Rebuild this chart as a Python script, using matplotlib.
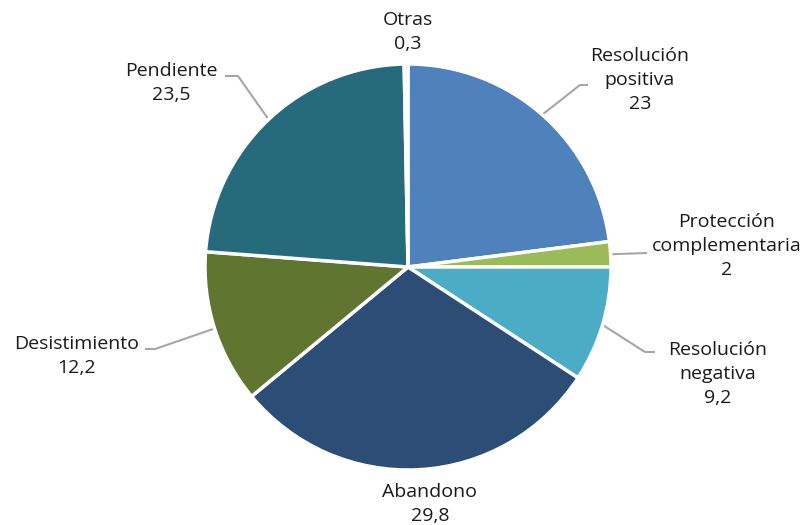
import numpy as np
import matplotlib
matplotlib.use("Agg")
import matplotlib.pyplot as plt

categories = ["Resolución\npositiva", "Protección\ncomplementaria", "Resolución\nnegativa",
              "Abandono", "Desistimiento", "Pendiente", "Otras"]
values = [23, 2, 9.2, 29.8, 12.2, 23.5, 0.3]
value_labels = ["23", "2", "9,2", "29,8", "12,2", "23,5", "0,3"]
colors = ["#4F81BD", "#9BBB59", "#4BACC6", "#2C4D75", "#5F7530", "#276A7C", "#C8C8C8"]

W, H = 804, 525
fig = plt.figure(figsize=(W / 100, H / 100), dpi=100)
ax = fig.add_axes([0, 0, 1, 1])

cx, cy_pix, R = 408, 267, 203
cy = H - cy_pix
ax.pie(values, colors=colors, startangle=90, counterclock=False,
       center=(cx, cy), radius=R,
       wedgeprops=dict(edgecolor="white", linewidth=2.5))
ax.set_xlim(0, W)
ax.set_ylim(0, H)
ax.set_aspect("equal")
ax.axis("off")

# label text centers (pixel coords, y from top) and leader elbows
label_pos = [(640, 80), (727, 246), (718, 374), (430, 504), (77, 356), (171, 83), (408, 32)]
elbows = [((580, 85), (588, 85)), ((647, 253), (647, 253)), ((645, 352), (655, 352)),
          None, ((155, 349), (145, 349)), ((238, 76), (225, 76)), None]

total = sum(values)
cum = np.cumsum([0] + values)
for i, (cat, v) in enumerate(zip(categories, values)):
    tx, ty = label_pos[i]
    ax.text(tx, H - ty, cat + "\n" + value_labels[i], ha="center", va="center",
            fontsize=14, family=["Open Sans", "DejaVu Sans"], color="#1a1a1a",
            linespacing=1.42)
    if elbows[i] is not None:
        mid = (cum[i] + cum[i + 1]) / 2 / total * 2 * np.pi
        ex = cx + R * np.sin(mid)
        ey = cy + R * np.cos(mid)
        (x1, y1), (x2, y2) = elbows[i]
        ax.plot([ex, x1, x2], [ey, H - y1, H - y2], color="#A6A6A6", lw=1.5,
                solid_capstyle="butt", zorder=0)

fig.savefig("out.png", dpi=100)
